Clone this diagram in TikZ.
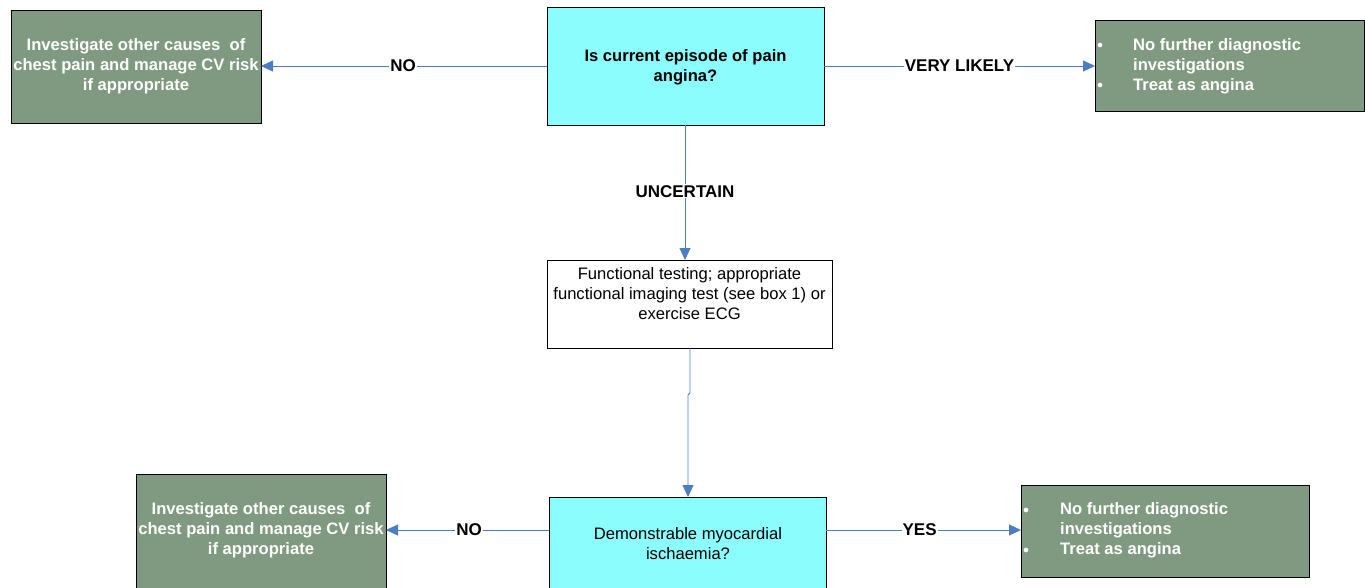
\documentclass[tikz,border=0pt]{standalone}
\usepackage{fontspec}
\setmainfont{Liberation Sans}
\usetikzlibrary{arrows.meta}
\definecolor{qcyan}{HTML}{8CFDFD}
\definecolor{outgreen}{HTML}{7F9A80}
\definecolor{linkblue}{HTML}{4A7DC6}
\tikzset{
  box/.style={draw=black, line width=1pt, inner sep=0pt},
  question/.style={box, fill=qcyan},
  outcome/.style={box, fill=outgreen},
  plain/.style={box, fill=white},
  txt/.style={align=center, inner sep=0pt, font=\fontsize{16.6}{20}\selectfont},
  boldtxt/.style={txt, font=\fontsize{16.6}{20}\selectfont\bfseries},
  whitetxt/.style={boldtxt, text=white},
  dot/.style={text=white, inner sep=0pt, font=\fontsize{12}{12}\selectfont},
  link/.style={draw=linkblue, line width=0.9pt, -{Triangle[length=12pt,width=11pt]}},
  lbl/.style={fill=white, inner sep=1pt, font=\fontsize{17}{19}\selectfont\bfseries}
}
\begin{document}
\begin{tikzpicture}[x=1pt,y=-1pt]
\useasboundingbox (0,0) rectangle (1365,587);
\clip (0,0) rectangle (1365,587);

% boxes
\draw[question] (547,7) rectangle (824,125);
\node[boldtxt] (q1) at (685.5,67) {Is current episode of pain\\angina?};
\coordinate (q1w) at (547,66); \coordinate (q1e) at (824,66); \coordinate (q1s) at (685,125);

\draw[outcome] (11,10) rectangle (261,123);
\node[whitetxt] (o1) at (136,66) {Investigate other causes\ \ of\\chest pain and manage CV risk\\if appropriate};
\coordinate (o1e) at (261,66);

\draw[outcome] (1095,20) rectangle (1364,111);
\node[whitetxt, align=left, anchor=west] (o2) at (1133,66) {No further diagnostic\\investigations\\Treat as angina};
\node[dot] (b1) at (1100,46) {$\bullet$};
\node[dot] (b2) at (1100,86) {$\bullet$};
\coordinate (o2w) at (1095,66);

\draw[plain] (547,260) rectangle (832,348);
\node[txt] (f1) at (689.5,294) {Functional testing; appropriate\\functional imaging test (see box 1) or\\exercise ECG};
\coordinate (f1n) at (685,260); \coordinate (f1s) at (690,348);

\draw[question] (549,497) rectangle (826,600);
\node[txt] (q2) at (688,544) {Demonstrable myocardial\\ischaemia?};
\coordinate (q2n) at (688,497); \coordinate (q2w) at (549,530); \coordinate (q2e) at (826,530);

\draw[outcome] (136,474) rectangle (386,600);
\node[whitetxt] (o3) at (261,530) {Investigate other causes\ \ of\\chest pain and manage CV risk\\if appropriate};
\coordinate (o3e) at (386,530);

\draw[outcome] (1021,485) rectangle (1309,577);
\node[whitetxt, align=left, anchor=west] (o4) at (1060,530) {No further diagnostic\\investigations\\Treat as angina};
\node[dot] (b3) at (1026,511) {$\bullet$};
\node[dot] (b4) at (1026,551) {$\bullet$};
\coordinate (o4w) at (1021,530);

% connectors
\draw[link] (q1w) -- node[lbl, pos=0.503] {NO} (o1e);
\draw[link] (q1e) -- node[lbl, pos=0.5] {VERY LIKELY} (o2w);
\draw[link] (q1s) -- node[lbl, pos=0.49] {UNCERTAIN} (f1n);
\coordinate (j1) at (690,393); \coordinate (j2) at (688,395);
\draw[link] (f1s) -- (j1) -- (j2) -- (q2n);
\draw[link] (q2w) -- node[lbl, pos=0.49] {NO} (o3e);
\draw[link] (q2e) -- node[lbl, pos=0.48] {YES} (o4w);
\end{tikzpicture}
\end{document}
